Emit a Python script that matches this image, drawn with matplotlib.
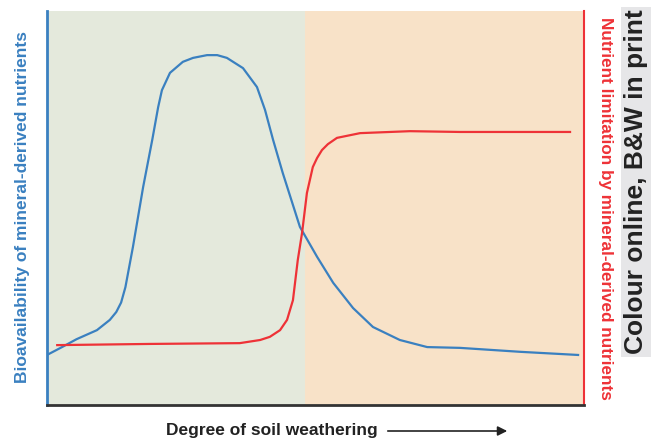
import matplotlib.pyplot as plt
from matplotlib.patches import FancyArrowPatch

plt.rcParams['font.family'] = ['Liberation Sans', 'DejaVu Sans']

# bioavailability curve (blue), x and y on a 0-100 scale
blue_x = [0, 2.8, 5.5, 9.3, 11.7, 12.9, 13.8, 14.6, 16.0, 17.9, 19.6, 20.7, 21.4,
          22.9, 25.3, 27.2, 29.8, 31.7, 33.5, 36.5, 39.1, 40.6, 42.1, 43.9, 47.1, 50.3,
          53.3, 57.0, 60.7, 65.7, 70.8, 76.9, 88.1, 98.9]
blue_y = [12.7, 14.7, 16.7, 19.0, 21.6, 23.6, 26.0, 29.9, 40.1, 55.3, 67.3, 75.6, 79.9,
          84.3, 87.1, 88.1, 88.8, 88.8, 88.1, 85.5, 80.7, 74.9, 67.3, 58.9, 45.2, 37.6,
          31.0, 24.6, 19.8, 16.5, 14.7, 14.5, 13.5, 12.7]

# nutrient limitation curve (red)
red_x = [1.9, 19.2, 35.9, 39.7, 41.5, 43.4, 44.7, 45.8, 46.7, 47.5, 48.4, 49.5, 50.3,
         51.2, 52.3, 54.0, 58.3, 67.6, 76.9, 97.4]
red_y = [15.2, 15.5, 15.7, 16.5, 17.3, 19.0, 21.6, 26.6, 36.8, 43.7, 53.8, 60.4, 62.7,
         64.7, 66.2, 67.8, 69.0, 69.5, 69.3, 69.3]

split_x = 48.0

blue = '#3a80c0'
red = '#ee3237'

fig = plt.figure(figsize=(6.54, 4.41), dpi=100)
ax = fig.add_axes([47 / 654, 36 / 441, 537 / 654, 394 / 441])
ax.set_xlim(0, 100)
ax.set_ylim(0, 100)

ax.axvspan(0, split_x, color='#e4e9dc', lw=0)
ax.axvspan(split_x, 100, color='#f8e2c8', lw=0)

ax.plot(blue_x, blue_y, color=blue, lw=1.6, solid_joinstyle='round')
ax.plot(red_x, red_y, color=red, lw=1.6, solid_joinstyle='round')

ax.set_xticks([])
ax.set_yticks([])
ax.spines['top'].set_visible(False)
ax.spines['left'].set_color(blue)
ax.spines['left'].set_linewidth(2)
ax.spines['right'].set_color(red)
ax.spines['right'].set_linewidth(1.5)
ax.spines['bottom'].set_color('#333333')
ax.spines['bottom'].set_linewidth(2)

fig.text(23 / 654, 1 - 207 / 441, 'Bioavailability of mineral-derived nutrients', rotation=90,
         ha='center', va='center', color=blue, fontsize=12.5, fontweight='bold')
fig.text(606 / 654, 1 - 208 / 441, 'Nutrient limitation by mineral-derived nutrients',
         rotation=270, ha='center', va='center', color=red, fontsize=12.3, fontweight='bold')

fig.text(272 / 654, 1 - 430 / 441, 'Degree of soil weathering', ha='center', va='center',
         fontsize=12.5, fontweight='bold', color='#222222')
fig.patches.append(FancyArrowPatch((385 / 654, 1 - 431 / 441), (510 / 654, 1 - 431 / 441),
                                   transform=fig.transFigure, arrowstyle='-|>',
                                   mutation_scale=14, color='#222222', lw=1.2))

fig.text(636 / 654, 1 - 182 / 441, 'Colour online, B&W in print', rotation=90,
         ha='center', va='center', fontsize=19, fontweight='bold', color='#222222',
         bbox=dict(facecolor='#e6e6e8', edgecolor='none', pad=2))

fig.savefig('out.png', dpi=100)
